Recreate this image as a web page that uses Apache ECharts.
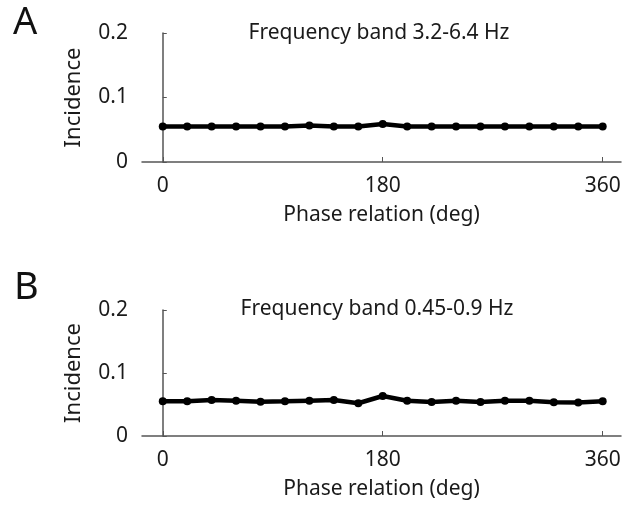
<!DOCTYPE html>
<html>
<head>
<meta charset="utf-8">
<script src="https://cdn.jsdelivr.net/npm/echarts@6/dist/echarts.min.js"></script>
<style>
  html, body { margin: 0; padding: 0; background: #fff; }
  #container { width: 624px; height: 505px; }
</style>
</head>
<body>
<div id="container"></div>
<script>
var dom = document.getElementById("container");
var myChart = echarts.init(dom);

// phase relation (deg)
var phases = [0, 20, 40, 60, 80, 100, 120, 140, 160, 180, 200, 220, 240, 260, 280, 300, 320, 340, 360];
// incidence, panel A (3.2-6.4 Hz)
var incidenceA = [0.055, 0.055, 0.055, 0.055, 0.055, 0.055, 0.0565, 0.055, 0.055, 0.0588, 0.055, 0.055, 0.055, 0.055, 0.055, 0.055, 0.055, 0.055, 0.055];
// incidence, panel B (0.45-0.9 Hz)
var incidenceB = [0.055, 0.055, 0.057, 0.056, 0.0545, 0.055, 0.056, 0.057, 0.052, 0.0635, 0.056, 0.054, 0.056, 0.054, 0.056, 0.056, 0.0535, 0.053, 0.055];
var xTicks = [0, 180, 360];
var yTicks = [0, 0.1, 0.2];
var titles = ['Frequency band 3.2-6.4 Hz', 'Frequency band 0.45-0.9 Hz'];
var panelLetters = ['A', 'B'];

var font = 'Noto Sans';
var axisColor = '#555';
var textColor = '#1a1a1a';

function pair(data) {
    return data.map(function (v, i) { return [phases[i], v]; });
}

function xAxisFor(idx) {
    return {
        type: 'value',
        gridIndex: idx,
        min: -17,
        max: 375,
        splitLine: { show: false },
        axisLine: { lineStyle: { color: axisColor, width: 1.5 } },
        axisTick: { inside: true, length: 5, customValues: xTicks, lineStyle: { color: axisColor } },
        axisLabel: { customValues: xTicks, color: textColor, fontFamily: font, fontSize: 21, margin: 14 },
        name: 'Phase relation (deg)',
        nameLocation: 'middle',
        nameGap: 43,
        nameTextStyle: { color: textColor, fontFamily: font, fontSize: 21 }
    };
}

function yAxisFor(idx) {
    return {
        type: 'value',
        gridIndex: idx,
        min: 0,
        max: 0.2,
        splitLine: { show: false },
        axisLine: { lineStyle: { color: axisColor, width: 1.5 } },
        axisTick: { inside: true, length: 4, customValues: yTicks, lineStyle: { color: axisColor } },
        axisLabel: { customValues: yTicks, color: textColor, fontFamily: font, fontSize: 21, margin: 14 },
        name: 'Incidence',
        nameLocation: 'middle',
        nameRotate: 90,
        nameGap: 57,
        nameTextStyle: { color: textColor, fontFamily: font, fontSize: 22 }
    };
}

function lineSeries(idx, data) {
    return {
        type: 'line',
        xAxisIndex: idx,
        yAxisIndex: idx,
        data: pair(data),
        symbol: 'circle',
        symbolSize: 8,
        lineStyle: { color: '#000', width: 4.5 },
        itemStyle: { color: '#000' },
        silent: true,
        animation: false
    };
}

option = {
    backgroundColor: '#fff',
    title: [
        { text: titles[0], left: 374, top: 18, textAlign: 'center',
          textStyle: { fontFamily: font, fontSize: 21, fontWeight: 'normal', color: textColor } },
        { text: titles[1], left: 372, top: 294, textAlign: 'center',
          textStyle: { fontFamily: font, fontSize: 21, fontWeight: 'normal', color: textColor } }
    ],
    graphic: [
        { type: 'text', left: 13, top: 4, style: { text: panelLetters[0], font: '38px "Noto Sans"', fill: '#111' } },
        { type: 'text', left: 14, top: 269, style: { text: panelLetters[1], font: '38px "Noto Sans"', fill: '#111' } }
    ],
    grid: [
        { left: 142, right: 3, top: 33, height: 129 },
        { left: 142, right: 3, top: 310, height: 126 }
    ],
    xAxis: [xAxisFor(0), xAxisFor(1)],
    yAxis: [yAxisFor(0), yAxisFor(1)],
    series: [lineSeries(0, incidenceA), lineSeries(1, incidenceB)]
};

myChart.setOption(option, true);
</script>
</body>
</html>
